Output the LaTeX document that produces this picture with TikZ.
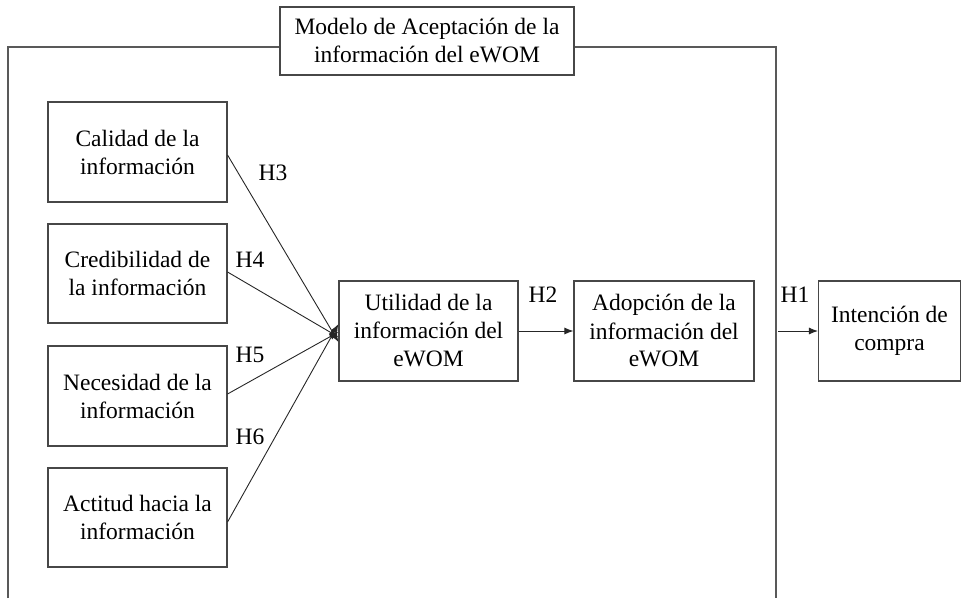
\documentclass[tikz,border=0pt]{standalone}
\usepackage{fontspec}
\setmainfont{Liberation Serif}
\usetikzlibrary{arrows.meta}
\begin{document}
\begin{tikzpicture}[x=1pt,y=-1pt,
  box/.style={draw=black!72,line width=1.1pt,fill=white,align=center,
    inner sep=0pt,font=\fontsize{23.5}{28}\selectfont},
  frameline/.style={draw=black!65,line width=1.1pt},
  link/.style={draw=black!85,line width=0.9pt,-{Latex[length=9pt,width=7pt]}},
  hyp/.style={font=\fontsize{23.5}{28}\selectfont,inner sep=0pt}]
\useasboundingbox (0,0) rectangle (962,598);

% open frame around the model
\coordinate (fbl) at (8,598);
\coordinate (ftl) at (8,47);
\coordinate (ftr) at (776,47);
\coordinate (fbr) at (776,598);
\draw[frameline] (fbl) -- (ftl) -- (ftr) -- (fbr);

% title of the frame
\node[box,minimum width=294pt,minimum height=68pt] (title) at (427,41)
  {Modelo de Aceptación de la\\información del eWOM};

% antecedents
\node[box,minimum width=179pt,minimum height=100pt] (cal) at (137.5,152)
  {Calidad de la\\información};
\node[box,minimum width=179pt,minimum height=99pt] (cred) at (137.5,273.5)
  {Credibilidad de\\la información};
\node[box,minimum width=179pt,minimum height=100pt] (nec) at (137.5,396)
  {Necesidad de la\\información};
\node[box,minimum width=179pt,minimum height=99pt] (act) at (137.5,517.5)
  {Actitud hacia la\\información};

% central constructs
\node[box,minimum width=179pt,minimum height=100pt] (util) at (428.5,331)
  {Utilidad de la\\información del\\eWOM};
\node[box,minimum width=180pt,minimum height=100pt] (adop) at (664,331)
  {Adopción de la\\información del\\eWOM};
\node[box,minimum width=142pt,minimum height=100pt] (int) at (889.5,331)
  {Intención de\\compra};

% arrow ends on the left side of the usefulness box
\coordinate (e3) at ([yshift=-11pt]util.west);
\coordinate (e4) at ([yshift=-6pt]util.west);
\coordinate (e5) at ([yshift=-1pt]util.west);
\coordinate (e6) at ([yshift=7pt]util.west);

\draw[link] ([yshift=-3pt]cal.east) -- (e3);
\draw[link] ([yshift=1.5pt]cred.east) -- (e4);
\draw[link] ([yshift=2pt]nec.east) -- (e5);
\draw[link] ([yshift=-4.5pt]act.east) -- (e6);
\draw[link] (util.east) -- (adop.west);
\coordinate (h1s) at (778,331);
\draw[link] (h1s) -- (int.west);

% hypothesis labels
\node[hyp] (h3) at (273,173) {H3};
\node[hyp] (h4) at (250,260) {H4};
\node[hyp] (h5) at (250,355) {H5};
\node[hyp] (h6) at (250,437) {H6};
\node[hyp] (h2) at (543,295) {H2};
\node[hyp] (h1) at (795,295) {H1};
\end{tikzpicture}
\end{document}
